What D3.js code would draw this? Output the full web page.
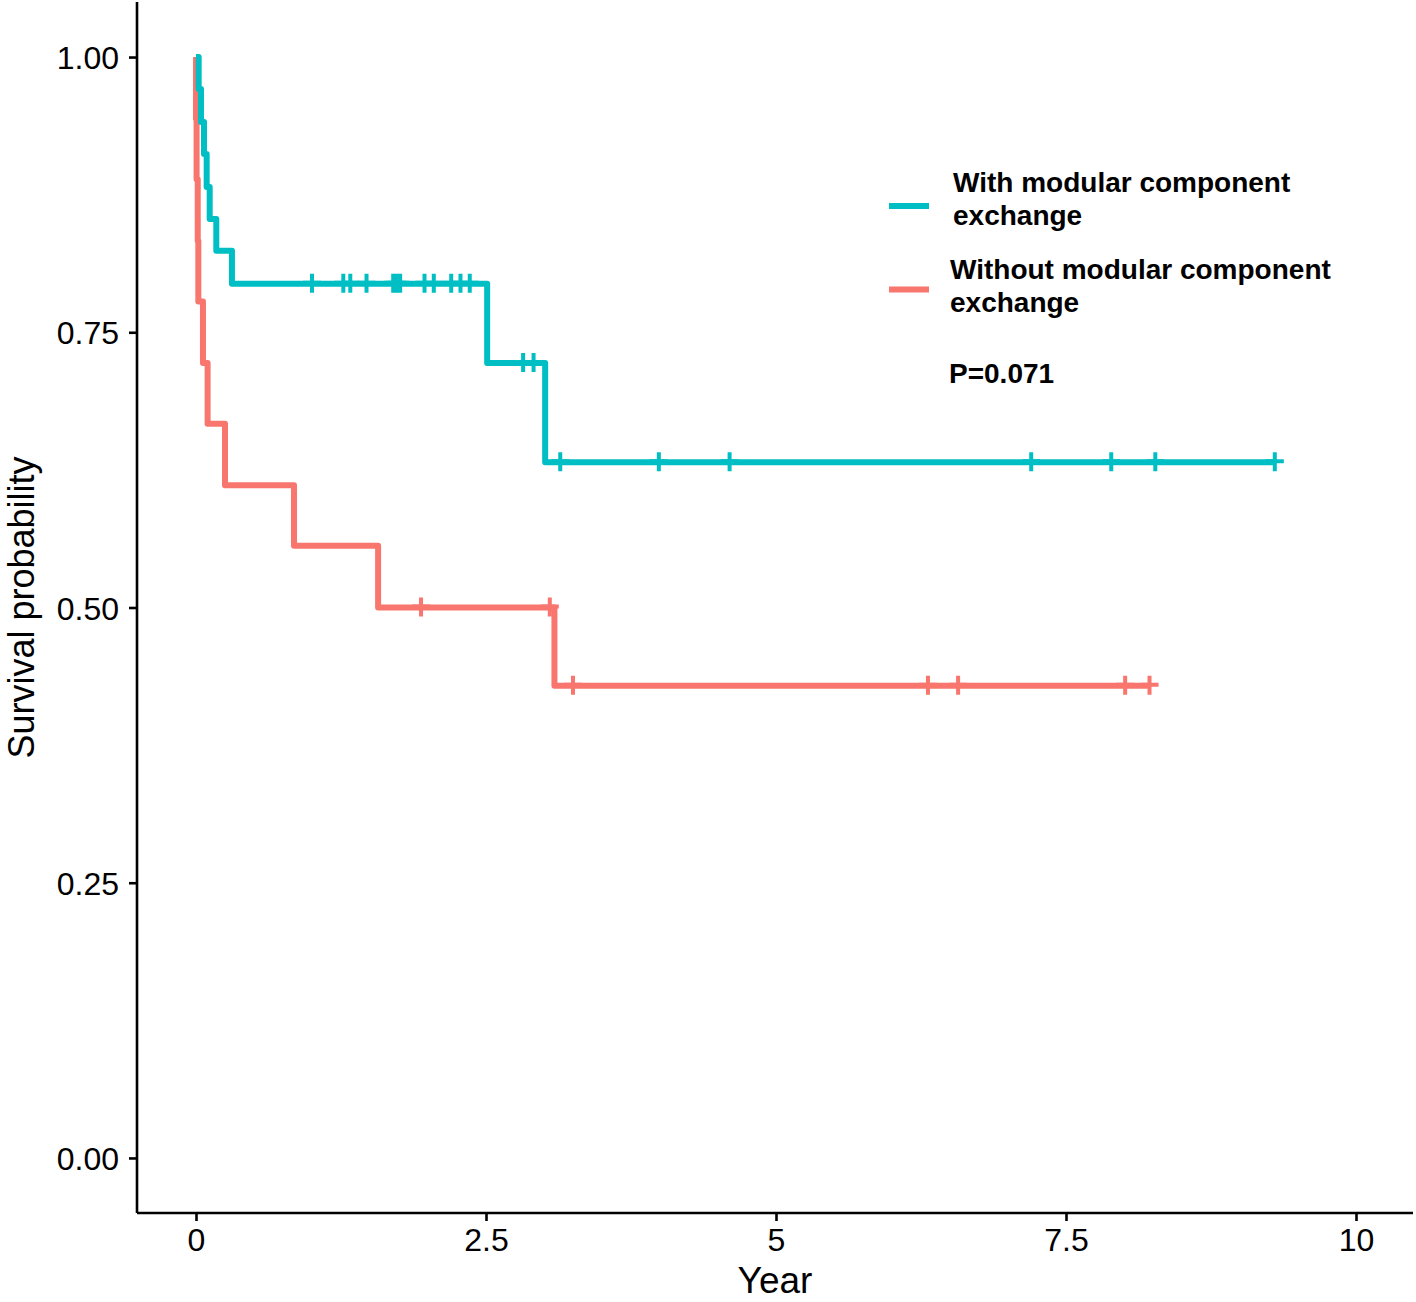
<!DOCTYPE html>
<html>
<head>
<meta charset="utf-8">
<script src="https://cdn.jsdelivr.net/npm/d3@7"></script>
<style>
  html, body { margin: 0; padding: 0; background: #ffffff; }
  svg { display: block; font-family: "Liberation Sans", Arial, sans-serif; }
</style>
</head>
<body>
<svg id="chart" width="1416" height="1302"></svg>
<script>
// ---- Data ----
const groupNames = ["With modular component exchange", "Without modular component exchange"];
const groupColors = ["#00BFC4", "#F8766D"];

// Group 1: with modular component exchange (step times and survival after each step)
const withTimes = [0, 0.023, 0.043, 0.069, 0.092, 0.118, 0.175, 0.31, 2.51, 3.01];
const withSurv  = [1, 0.971, 0.941, 0.912, 0.882, 0.853, 0.824, 0.794, 0.722, 0.632];
const withCensor = [1.0, 1.27, 1.33, 1.47, 1.70, 1.73, 1.76, 1.97, 2.05, 2.20, 2.28, 2.36, 2.82, 2.91, 3.14, 3.99, 4.60, 7.20, 7.89, 8.27, 9.30];
const withEnd = 9.30;

// Group 2: without modular component exchange
const withoutTimes = [0, 0.0, 0.005, 0.015, 0.02, 0.06, 0.10, 0.25, 0.845, 1.57, 3.09];
const withoutSurv  = [1, 0.944, 0.889, 0.833, 0.778, 0.722, 0.667, 0.611, 0.556, 0.5, 0.429];
const withoutCensor = [1.94, 3.05, 3.25, 6.31, 6.57, 8.01, 8.22];
const withoutEnd = 8.22;

const xTicks = [0, 2.5, 5, 7.5, 10];
const xTickLabels = ["0", "2.5", "5", "7.5", "10"];
const yTicks = [0, 0.25, 0.5, 0.75, 1.0];
const yTickLabels = ["0.00", "0.25", "0.50", "0.75", "1.00"];
const pValueText = "P=0.071";

// ---- Layout ----
const svg = d3.select("#chart");
const x = d3.scaleLinear().domain([-0.5, 10.5]).range([138, 1414]);
const y = d3.scaleLinear().domain([-0.05, 1.05]).range([1213, 2]);

// Axes
const xAxis = d3.axisBottom(x).tickValues(xTicks).tickFormat((d, i) => xTickLabels[i]).tickSize(8).tickPadding(7);
const yAxis = d3.axisLeft(y).tickValues(yTicks).tickFormat((d, i) => yTickLabels[i]).tickSize(8).tickPadding(10);

const gx = svg.append("g").attr("transform", "translate(0,1213)").call(xAxis);
const gy = svg.append("g").attr("transform", "translate(137,0)").call(yAxis);

[gx, gy].forEach(g => {
  g.select(".domain").attr("stroke", "#000").attr("stroke-width", 2.6);
  g.selectAll(".tick line").attr("stroke", "#000").attr("stroke-width", 2.6);
  g.selectAll(".tick text").attr("fill", "#000").style("font-size", "32px").style("font-family", "'Liberation Sans', Arial, sans-serif");
});
gx.select(".domain").attr("d", "M137,0H1413");
gy.select(".domain").attr("d", "M0,1213V2");
gx.selectAll(".tick text").attr("dy", "0.71em");
gy.selectAll(".tick text").attr("dy", "0.36em");

// Axis titles
svg.append("text")
  .attr("x", x(5) - 1).attr("y", 1293)
  .attr("text-anchor", "middle")
  .style("font-size", "37px")
  .text("Year");
svg.append("text")
  .attr("transform", `translate(34,${y(0.5)}) rotate(-90)`)
  .attr("text-anchor", "middle")
  .style("font-size", "36px")
  .text("Survival probability");

// Survival curves
function buildPoints(times, surv, end) {
  const pts = times.map((t, i) => [t, surv[i]]);
  pts.push([end, surv[surv.length - 1]]);
  return pts;
}
function survAt(times, surv, t) {
  let s = surv[0];
  for (let i = 0; i < times.length; i++) if (times[i] <= t) s = surv[i];
  return s;
}

const line = d3.line().x(d => x(d[0])).y(d => y(d[1])).curve(d3.curveStepAfter);

const groups = [
  { times: withoutTimes, surv: withoutSurv, censor: withoutCensor, end: withoutEnd, color: groupColors[1] },
  { times: withTimes, surv: withSurv, censor: withCensor, end: withEnd, color: groupColors[0] }
];

groups.forEach(g => {
  svg.append("path")
    .datum(buildPoints(g.times, g.surv, g.end))
    .attr("d", line)
    .attr("fill", "none")
    .attr("stroke", g.color)
    .attr("stroke-width", 6)
    .attr("stroke-linejoin", "round");
  const cg = svg.append("g");
  g.censor.forEach(t => {
    const cx = x(t), cy = y(survAt(g.times, g.surv, t));
    cg.append("path")
      .attr("d", `M${cx - 9},${cy - 1}H${cx + 9}M${cx},${cy - 10}V${cy + 9}`)
      .attr("stroke", g.color)
      .attr("stroke-width", 4)
      .attr("fill", "none");
  });
});

// Legend
const legend = [
  { color: groupColors[0], lineY: 206, textX: 953, lines: ["With modular component", "exchange"], baselines: [192, 225] },
  { color: groupColors[1], lineY: 289.5, textX: 950, lines: ["Without modular component", "exchange"], baselines: [279, 312] }
];
legend.forEach(l => {
  svg.append("line")
    .attr("x1", 889).attr("x2", 929)
    .attr("y1", l.lineY).attr("y2", l.lineY)
    .attr("stroke", l.color).attr("stroke-width", 6);
  l.lines.forEach((s, i) => {
    svg.append("text")
      .attr("x", l.textX).attr("y", l.baselines[i])
      .style("font-size", "28px").style("font-weight", "bold")
      .text(s);
  });
});

svg.append("text")
  .attr("x", 949).attr("y", 383)
  .style("font-size", "28px").style("font-weight", "bold")
  .text(pValueText);
</script>
</body>
</html>
